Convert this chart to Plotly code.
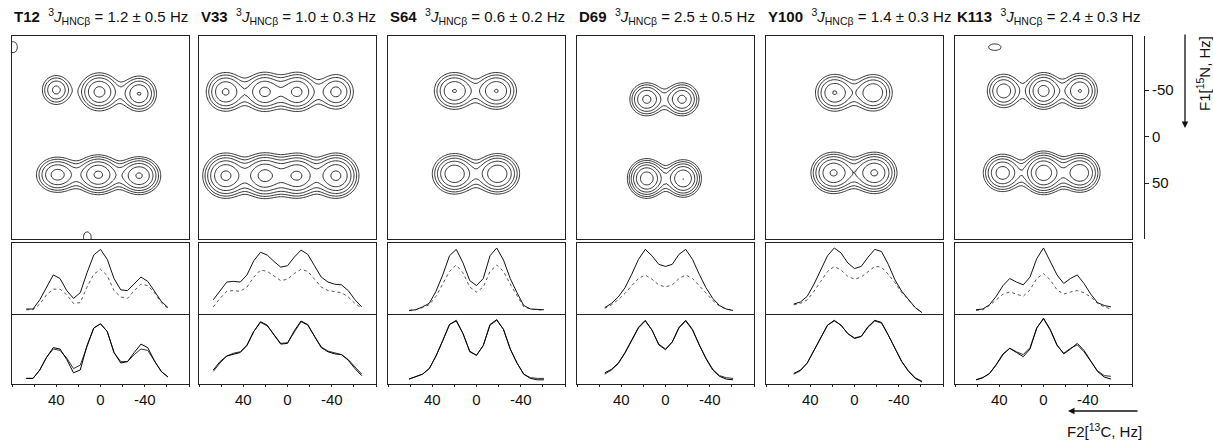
import numpy as np
import plotly.graph_objects as go

W, H = 1213, 443

PANEL_NAMES = ["T12", "V33", "S64", "D69", "Y100", "K113"]
J_VALUES = ["1.2 ± 0.5", "1.0 ± 0.3", "0.6 ± 0.2", "2.5 ± 0.5", "1.4 ± 0.3", "2.4 ± 0.3"]
F2_TICKS = [40, 0, -40]
F2_TICK_TEXT = ["40", "0", "-40"]
F1_TICKS = [-50, 0, 50]
F1_TICK_TEXT = ["-50", "0", "50"]

# common F2 sampling of the 1D traces (Hz)
F2_GRID = [67.1, 61, 54.9, 48.8, 42.7, 36.6, 30.5, 24.4, 18.3, 12.2, 6.1, 0,
           -6.1, -12.2, -18.3, -24.4, -30.5, -36.6, -42.7, -48.8, -54.9, -61, -67.1]

# 2D cross peaks: (F2 Hz, F1 Hz, height, linewidth F2, linewidth F1)
PEAKS_T12 = [(40, -50, 3.0, 8.5, 10.5), (1, -48, 4.3, 10.5, 12), (-35, -46, 3.9, 9.5, 11.5),
             (39, 41, 4.4, 11, 11), (2, 41, 5.7, 11, 11.5), (-35, 42, 5.6, 10.5, 11),
             (79, -96, 1.25, 6, 9), (12, 108, 1.3, 5, 8)]
PEAKS_V33 = [(56, -48, 4.0, 10.5, 12.5), (21, -48, 4.1, 10.5, 12.5), (-9, -48, 4.1, 10.5, 12.5),
             (-44, -48, 3.0, 10.5, 12.5),
             (56, 42, 5.8, 11, 13), (21, 42, 5.9, 11, 13), (-9, 42, 5.6, 11, 13),
             (-44, 42, 5.8, 11, 13)]
PEAKS_S64 = [(20, -49, 3.9, 11, 12), (-18, -49, 3.9, 11, 12),
             (20, 40, 5.2, 11, 12), (-19, 40, 5.2, 11, 12)]
PEAKS_D69 = [(17, -40, 4.2, 9, 10.5), (-15, -40, 4.2, 9, 10.5),
             (17, 45, 6.6, 9, 11), (-16, 45, 5.4, 9, 11)]
PEAKS_Y100 = [(18, -47, 3.9, 10.5, 12), (-17, -47, 3.8, 10.5, 12),
              (19, 39, 5.6, 11, 12), (-18, 39, 5.6, 11, 12)]
PEAKS_K113 = [(36, -49, 3.4, 9.5, 11.5), (0, -49, 4.4, 9.5, 11.5), (-33, -49, 3.9, 9.5, 11.5),
              (37, 39, 4.6, 10, 11.5), (0, 39, 6.8, 10, 12), (-33, 39, 5.2, 10, 11.5),
              (44, -96, 1.3, 8, 5)]

# 1D traces (relative intensity) : top panel solid / dashed, bottom panel two solid
TOP_SOLID_T12 = [0.07, 0.07, 0.20, 0.38, 0.55, 0.50, 0.33, 0.22, 0.30, 0.58, 0.83, 0.91,
                 0.77, 0.50, 0.34, 0.33, 0.42, 0.52, 0.46, 0.32, 0.18, 0.09, None]
TOP_DASH_T12 = [0.06, 0.06, 0.14, 0.27, 0.35, 0.35, 0.27, 0.15, 0.16, 0.38, 0.56, 0.63,
                0.54, 0.33, 0.24, 0.22, 0.33, 0.42, 0.40, 0.30, 0.16, 0.08, None]
BOT_A_T12 = [0.08, 0.08, 0.20, 0.38, 0.52, 0.50, 0.35, 0.16, 0.20, 0.55, 0.80, 0.86,
             0.75, 0.45, 0.30, 0.32, 0.45, 0.57, 0.52, 0.33, 0.18, 0.10, None]
BOT_B_T12 = [0.08, 0.08, 0.20, 0.38, 0.50, 0.48, 0.37, 0.22, 0.27, 0.55, 0.80, 0.86,
             0.75, 0.45, 0.32, 0.32, 0.42, 0.50, 0.48, 0.33, 0.18, 0.10, None]

TOP_SOLID_V33 = [0.20, 0.32, 0.45, 0.46, 0.45, 0.55, 0.75, 0.87, 0.83, 0.74, 0.66, 0.68,
                 0.80, 0.90, 0.84, 0.68, 0.52, 0.45, 0.42, 0.41, 0.33, 0.20, 0.10]
TOP_DASH_V33 = [0.10, 0.22, 0.32, 0.33, 0.32, 0.38, 0.52, 0.62, 0.60, 0.53, 0.47, 0.49,
                0.57, 0.63, 0.60, 0.49, 0.38, 0.33, 0.31, 0.30, 0.24, 0.15, 0.08]
BOT_A_V33 = [0.20, 0.32, 0.40, 0.43, 0.45, 0.55, 0.75, 0.89, 0.84, 0.70, 0.57, 0.58,
             0.76, 0.90, 0.85, 0.68, 0.52, 0.46, 0.43, 0.42, 0.34, 0.22, 0.12]
BOT_B_V33 = [0.18, 0.30, 0.40, 0.44, 0.46, 0.56, 0.75, 0.88, 0.83, 0.70, 0.58, 0.59,
             0.75, 0.89, 0.84, 0.68, 0.53, 0.47, 0.44, 0.42, 0.35, 0.24, 0.14]

TOP_SOLID_S64 = [None, 0.05, 0.06, 0.10, 0.15, 0.32, 0.55, 0.82, 0.91, 0.72, 0.47, 0.40,
                 0.50, 0.82, 0.93, 0.76, 0.50, 0.30, 0.12, 0.07, 0.06, 0.06, None]
TOP_DASH_S64 = [None, 0.05, 0.06, 0.09, 0.13, 0.25, 0.42, 0.60, 0.69, 0.58, 0.38, 0.31,
                0.38, 0.60, 0.69, 0.60, 0.42, 0.25, 0.10, 0.07, 0.06, 0.05, None]
BOT_A_S64 = [None, 0.07, 0.10, 0.14, 0.22, 0.40, 0.62, 0.85, 0.91, 0.72, 0.46, 0.41,
             0.55, 0.85, 0.92, 0.78, 0.50, 0.30, 0.14, 0.08, 0.06, 0.06, None]
BOT_B_S64 = [None, 0.07, 0.10, 0.14, 0.22, 0.40, 0.62, 0.85, 0.90, 0.72, 0.47, 0.41,
             0.55, 0.84, 0.91, 0.78, 0.50, 0.30, 0.14, 0.09, 0.08, 0.08, None]

TOP_SOLID_D69 = [None, None, 0.09, 0.15, 0.24, 0.37, 0.56, 0.77, 0.91, 0.82, 0.70, 0.67,
                 0.70, 0.84, 0.91, 0.77, 0.56, 0.37, 0.22, 0.12, 0.07, 0.05, None]
TOP_DASH_D69 = [None, None, 0.08, 0.13, 0.20, 0.29, 0.40, 0.50, 0.55, 0.49, 0.41, 0.38,
                0.41, 0.50, 0.55, 0.50, 0.40, 0.29, 0.19, 0.11, 0.07, 0.05, None]
BOT_A_D69 = [None, None, 0.16, 0.21, 0.30, 0.45, 0.63, 0.81, 0.91, 0.77, 0.56, 0.49,
             0.60, 0.81, 0.91, 0.78, 0.56, 0.36, 0.20, 0.11, 0.07, 0.06, None]
BOT_B_D69 = [None, None, 0.14, 0.20, 0.29, 0.44, 0.62, 0.80, 0.90, 0.77, 0.57, 0.50,
             0.60, 0.80, 0.90, 0.77, 0.56, 0.37, 0.21, 0.12, 0.09, 0.08, None]

TOP_SOLID_Y100 = [None, None, 0.14, 0.17, 0.25, 0.42, 0.62, 0.82, 0.93, 0.86, 0.72, 0.64,
                  0.67, 0.80, 0.91, 0.88, 0.70, 0.48, 0.32, 0.20, 0.09, 0.02, None]
TOP_DASH_Y100 = [None, None, 0.13, 0.15, 0.20, 0.32, 0.46, 0.60, 0.67, 0.62, 0.53, 0.49,
                 0.52, 0.60, 0.67, 0.66, 0.56, 0.44, 0.30, 0.20, 0.09, 0.02, None]
BOT_A_Y100 = [None, None, 0.15, 0.20, 0.30, 0.48, 0.66, 0.84, 0.91, 0.84, 0.72, 0.65,
              0.68, 0.82, 0.91, 0.88, 0.70, 0.50, 0.32, 0.18, 0.08, 0.03, None]
BOT_B_Y100 = [None, None, 0.14, 0.19, 0.30, 0.48, 0.66, 0.84, 0.90, 0.84, 0.72, 0.66,
              0.68, 0.81, 0.90, 0.87, 0.70, 0.50, 0.32, 0.19, 0.09, 0.04, None]

TOP_SOLID_K113 = [None, 0.06, 0.07, 0.13, 0.25, 0.40, 0.50, 0.45, 0.41, 0.52, 0.78, 0.93,
                  0.75, 0.55, 0.43, 0.50, 0.55, 0.43, 0.28, 0.16, 0.12, 0.10, None]
TOP_DASH_K113 = [None, 0.05, 0.06, 0.12, 0.20, 0.28, 0.31, 0.28, 0.25, 0.34, 0.50, 0.57,
                 0.48, 0.34, 0.28, 0.31, 0.33, 0.30, 0.24, 0.15, 0.10, 0.07, None]
BOT_A_K113 = [None, 0.06, 0.09, 0.15, 0.28, 0.43, 0.51, 0.45, 0.39, 0.50, 0.80, 0.94,
              0.78, 0.56, 0.43, 0.50, 0.58, 0.48, 0.33, 0.18, 0.10, 0.07, None]
BOT_B_K113 = [None, 0.06, 0.09, 0.15, 0.27, 0.42, 0.51, 0.46, 0.42, 0.52, 0.80, 0.93,
              0.77, 0.55, 0.44, 0.51, 0.56, 0.46, 0.33, 0.19, 0.12, 0.11, None]

PEAKS = [PEAKS_T12, PEAKS_V33, PEAKS_S64, PEAKS_D69, PEAKS_Y100, PEAKS_K113]
TOP_SOLID = [TOP_SOLID_T12, TOP_SOLID_V33, TOP_SOLID_S64, TOP_SOLID_D69, TOP_SOLID_Y100, TOP_SOLID_K113]
TOP_DASH = [TOP_DASH_T12, TOP_DASH_V33, TOP_DASH_S64, TOP_DASH_D69, TOP_DASH_Y100, TOP_DASH_K113]
BOT_A = [BOT_A_T12, BOT_A_V33, BOT_A_S64, BOT_A_D69, BOT_A_Y100, BOT_A_K113]
BOT_B = [BOT_B_T12, BOT_B_V33, BOT_B_S64, BOT_B_D69, BOT_B_Y100, BOT_B_K113]

# ---------------- layout geometry (pixels) ----------------
PANEL_LEFT = [12, 199, 388, 577, 766, 955]
PANEL_W = 177
CONT_TOP, CONT_BOT = 36, 239
TR1_TOP, TR1_BOT = 243, 314
TR2_TOP, TR2_BOT = 314, 384
F1_AXIS_X = 1144

F2_RANGE = [80, -80]
F1_RANGE = [110, -108]
LEVEL_FACTOR = 1.4
N_LEVELS = 7

FONT = "Liberation Sans, Arial, sans-serif"
LINE_COL = "#222222"


def xd(a, b):
    return [a / W, b / W]


def yd(top, bot):
    return [(H - bot) / H, (H - top) / H]


def box_axis(dom, rng, anchor, mirror=True):
    return dict(domain=dom, range=rng, anchor=anchor, showticklabels=False, ticks="",
                showgrid=False, zeroline=False, showline=True, mirror=mirror,
                linecolor=LINE_COL, linewidth=1)


fig = go.Figure()
layout = {}

gx = np.arange(-86, 87, 2.5)
gy = np.arange(-114, 117, 2.5)
GX, GY = np.meshgrid(gx, gy)

for p in range(6):
    L = PANEL_LEFT[p]
    R = L + PANEL_W
    base = p * 3
    # --- contour panel ---
    n = base + 1
    z = np.full(GX.shape, 1e-3)
    for (f2, f1, a, w2, w1) in PEAKS[p]:
        z += a * np.exp(-((GX - f2) ** 2) / (2 * w2 ** 2) - ((GY - f1) ** 2) / (2 * w1 ** 2))
    fig.add_trace(go.Contour(
        x=gx, y=gy, z=np.log(z),
        contours=dict(coloring="lines", start=0.0, end=np.log(LEVEL_FACTOR) * (N_LEVELS - 1) + 1e-6,
                      size=np.log(LEVEL_FACTOR), showlabels=False),
        colorscale=[[0, "black"], [1, "black"]], showscale=False,
        line=dict(width=0.8, smoothing=0.8), hoverinfo="skip",
        xaxis=f"x{n}", yaxis=f"y{n}"))
    layout[f"xaxis{n}"] = box_axis(xd(L, R), F2_RANGE, f"y{n}")
    layout[f"yaxis{n}"] = box_axis(yd(CONT_TOP, CONT_BOT), F1_RANGE, f"x{n}")
    # --- top trace panel ---
    n = base + 2
    fig.add_trace(go.Scatter(x=F2_GRID, y=TOP_DASH[p], mode="lines",
                             line=dict(color="#555555", width=1, dash="dot"),
                             hoverinfo="skip", xaxis=f"x{n}", yaxis=f"y{n}"))
    fig.add_trace(go.Scatter(x=F2_GRID, y=TOP_SOLID[p], mode="lines",
                             line=dict(color="#111111", width=1),
                             hoverinfo="skip", xaxis=f"x{n}", yaxis=f"y{n}"))
    layout[f"xaxis{n}"] = box_axis(xd(L, R), F2_RANGE, f"y{n}")
    layout[f"yaxis{n}"] = box_axis(yd(TR1_TOP, TR1_BOT), [0, 1], f"x{n}")
    # --- bottom trace panel ---
    n = base + 3
    fig.add_trace(go.Scatter(x=F2_GRID, y=BOT_B[p], mode="lines",
                             line=dict(color="#333333", width=1),
                             hoverinfo="skip", xaxis=f"x{n}", yaxis=f"y{n}"))
    fig.add_trace(go.Scatter(x=F2_GRID, y=BOT_A[p], mode="lines",
                             line=dict(color="#000000", width=1),
                             hoverinfo="skip", xaxis=f"x{n}", yaxis=f"y{n}"))
    ax = box_axis(xd(L, R), F2_RANGE, f"y{n}", mirror=False)
    ax.update(showticklabels=True, tickvals=F2_TICKS, ticktext=F2_TICK_TEXT, ticks="outside",
              ticklen=2, tickcolor=LINE_COL,
              minor=dict(dtick=20, ticks="outside", ticklen=2, tickcolor=LINE_COL),
              tickfont=dict(family=FONT, size=15, color="#111111"))
    layout[f"xaxis{n}"] = ax
    layout[f"yaxis{n}"] = box_axis(yd(TR2_TOP, TR2_BOT), [0, 1], f"x{n}")

# F1 scale axis on the right
fig.add_trace(go.Scatter(x=[None], y=[None], mode="lines", showlegend=False,
                         hoverinfo="skip", xaxis="x19", yaxis="y19"))
layout["xaxis19"] = dict(domain=xd(F1_AXIS_X, F1_AXIS_X + 30), range=[0, 1], visible=False,
                         anchor="y19")
layout["yaxis19"] = dict(domain=yd(CONT_TOP, CONT_BOT), range=F1_RANGE, anchor="free",
                         position=F1_AXIS_X / W, side="right",
                         tickvals=F1_TICKS, ticktext=F1_TICK_TEXT, ticks="outside", ticklen=4,
                         tickcolor=LINE_COL,
                         tickfont=dict(family=FONT, size=15, color="#111111"),
                         showgrid=False, zeroline=False, showline=True, linecolor=LINE_COL,
                         linewidth=1)

annotations = []
for p in range(6):
    annotations.append(dict(
        x=PANEL_LEFT[p] / W, y=(H - 17) / H, xref="paper", yref="paper",
        xanchor="left", yanchor="middle", showarrow=False,
        text=f"<b>{PANEL_NAMES[p]}</b>  <sup>3</sup><i>J</i><sub>HNCβ</sub> = {J_VALUES[p]} Hz",
        font=dict(family=FONT, size=15, color="#111111")))

# F1 arrow + label
annotations.append(dict(x=1185 / W, y=(H - 128) / H, xref="paper", yref="paper",
                        ax=0, ay=-95, showarrow=True, arrowhead=2, arrowsize=1,
                        arrowwidth=1.3, arrowcolor="#111111", text=""))
annotations.append(dict(x=1204 / W, y=(H - 74) / H, xref="paper", yref="paper",
                        textangle=-90, showarrow=False, xanchor="center", yanchor="middle",
                        text="F1[<sup>15</sup>N, Hz]",
                        font=dict(family=FONT, size=15, color="#111111")))
# F2 arrow + label
annotations.append(dict(x=1068 / W, y=(H - 411) / H, xref="paper", yref="paper",
                        ax=71, ay=0, showarrow=True, arrowhead=2, arrowsize=1,
                        arrowwidth=1.3, arrowcolor="#111111", text=""))
annotations.append(dict(x=1104 / W, y=(H - 430) / H, xref="paper", yref="paper",
                        showarrow=False, xanchor="center", yanchor="middle",
                        text="F2[<sup>13</sup>C, Hz]",
                        font=dict(family=FONT, size=15, color="#111111")))

fig.update_layout(width=W, height=H, margin=dict(l=0, r=0, t=0, b=0),
                  paper_bgcolor="white", plot_bgcolor="white", showlegend=False,
                  annotations=annotations, **layout)

fig.write_html("out.html")
